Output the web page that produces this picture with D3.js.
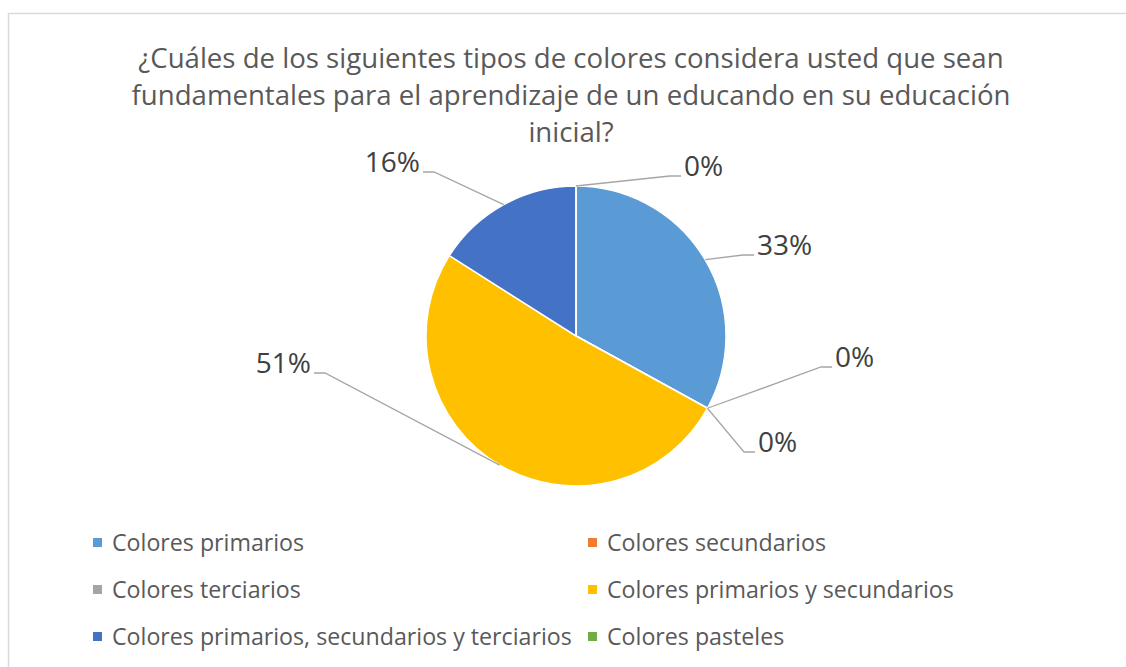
<!DOCTYPE html>
<html>
<head>
<meta charset="utf-8">
<style>
    body { margin: 0; background: #fff; }
    svg { display: block; font-family: "Open Sans", sans-serif; }
    .title { fill: #595959; font-size: 27.6px; text-anchor: middle; }
    .label { fill: #404040; font-size: 28px; }
    .leader { fill: none; stroke: #a6a6a6; stroke-width: 1.3px; }
    .legend text { fill: #595959; font-size: 23.2px; }
</style>
<script src="https://cdn.jsdelivr.net/npm/d3@7"></script>
</head>
<body>
<script>
    const categories = [
        'Colores primarios',
        'Colores secundarios',
        'Colores terciarios',
        'Colores primarios y secundarios',
        'Colores primarios, secundarios y terciarios',
        'Colores pasteles'
    ];
    const values = [33, 0, 0, 51, 16, 0];
    const colors = ['#5b9bd5', '#ed7d31', '#a5a5a5', '#ffc000', '#4472c4', '#70ad47'];
    const titleLines = [
        '¿Cuáles de los siguientes tipos de colores considera usted que sean',
        'fundamentales para el aprendizaje de un educando en su educación',
        'inicial?'
    ];

    const width = 1126, height = 667;
    const cx = 576, cy = 336, radius = 150;
    // where each data label's text edge sits, relative to the pie centre
    const labelSpots = [[181, -81, 1], [259, 31, 1], [182, 116, 1], [-265, 37, -1], [-156, -164, -1], [108, -160, 1]];

    const svg = d3.select('body').append('svg')
        .attr('width', width)
        .attr('height', height);

    // chart area border (only top and left are visible)
    svg.append('path')
        .attr('d', `M8.5,${height} V13.5 H${width}`)
        .attr('fill', 'none')
        .attr('stroke', '#d9d9d9')
        .attr('stroke-width', 1.5);

    svg.selectAll('text.title')
        .data(titleLines)
        .enter().append('text')
        .attr('class', 'title')
        .attr('x', 571)
        .attr('y', (d, i) => 68 + i * 37)
        .text(d => d);

    const pie = d3.pie().sort(null).value(d => d);
    const arcs = pie(values);
    const arc = d3.arc().innerRadius(0).outerRadius(radius);
    const rimArc = d3.arc().innerRadius(radius).outerRadius(radius);

    const g = svg.append('g').attr('transform', `translate(${cx},${cy})`);

    g.selectAll('path.slice')
        .data(arcs)
        .enter().append('path')
        .attr('class', 'slice')
        .attr('d', arc)
        .attr('fill', (d, i) => colors[i])
        .attr('stroke', '#fff')
        .attr('stroke-width', 1.5);

    const line = d3.line();
    g.selectAll('path.leader')
        .data(arcs)
        .enter().append('path')
        .attr('class', 'leader')
        .attr('d', (d, i) => {
            const [lx, ly, side] = labelSpots[i];
            const start = rimArc.centroid(d);
            return line([start, [lx - side * 14, ly], [lx - side * 3, ly]]);
        });

    g.selectAll('text.label')
        .data(arcs)
        .enter().append('text')
        .attr('class', 'label')
        .attr('x', (d, i) => labelSpots[i][0])
        .attr('y', (d, i) => labelSpots[i][1])
        .attr('text-anchor', (d, i) => labelSpots[i][2] > 0 ? 'start' : 'end')
        .text(d => d3.format('.0%')(d.value / 100));

    // legend, two columns
    const legend = svg.append('g').attr('class', 'legend');
    const item = legend.selectAll('g')
        .data(categories)
        .enter().append('g')
        .attr('transform', (d, i) => `translate(${i % 2 ? 588 : 93},${543 + Math.floor(i / 2) * 47})`);
    item.append('rect')
        .attr('x', 0).attr('y', -5)
        .attr('width', 9).attr('height', 9)
        .attr('fill', (d, i) => colors[i]);
    item.append('text')
        .attr('x', 19)
        .attr('y', 8)
        .text(d => d);
</script>
</body>
</html>
